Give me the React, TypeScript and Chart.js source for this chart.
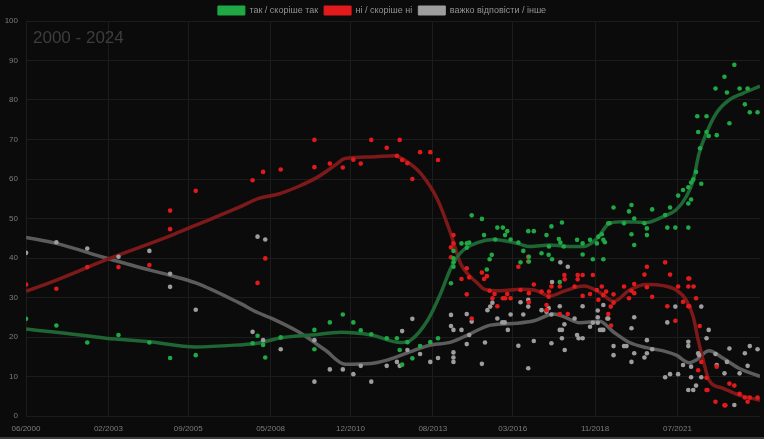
import { useEffect, useRef } from "react";
import { Chart, registerables } from "chart.js";

Chart.register(...registerables);

// x values are decimal years, y values are percent
const xTickValues = [2000.417, 2003.083, 2005.667, 2008.333, 2010.917, 2013.583, 2016.167, 2018.833, 2021.5];
const xTickLabels = ["06/2000", "02/2003", "09/2005", "05/2008", "12/2010", "08/2013", "03/2016", "11/2018", "07/2021"];
const seriesLabels = ["так / скоріше так", "ні / скоріше ні", "важко відповісти / інше"];

const yesPoints = [
  [2000.42, 24.6], [2001.4, 22.9], [2002.4, 18.6], [2003.41, 20.5], [2004.41, 18.6], [2005.08, 14.7], [2005.91, 15.4],
  [2007.75, 18.4], [2007.91, 20.3], [2008.09, 18.0], [2008.16, 14.8], [2008.66, 19.9], [2009.75, 21.8], [2009.75, 16.9],
  [2010.25, 23.7], [2010.67, 25.7], [2011.01, 23.7], [2011.25, 21.7], [2011.59, 20.7], [2012.09, 19.7], [2012.42, 19.7],
  [2012.51, 16.7], [2012.59, 13.0], [2012.76, 18.7], [2012.92, 14.6], [2013.17, 17.7], [2013.5, 18.7], [2013.75, 19.7],
  [2014.17, 33.6], [2014.25, 37.8], [2014.25, 38.9], [2014.25, 39.9], [2014.25, 41.8], [2014.51, 43.7], [2014.68, 43.7],
  [2014.68, 42.6], [2014.76, 43.9], [2014.84, 50.8], [2015.17, 49.9], [2015.24, 45.8], [2015.33, 37.1], [2015.42, 39.7],
  [2015.49, 40.8], [2015.6, 44.7], [2015.67, 47.7], [2015.85, 47.7], [2015.92, 45.8], [2015.99, 46.8], [2016.1, 44.7],
  [2016.35, 43.9], [2016.42, 38.9], [2016.51, 41.8], [2016.67, 46.8], [2016.69, 39.1], [2016.69, 40.3], [2016.85, 46.8],
  [2017.1, 41.2], [2017.26, 45.8], [2017.33, 40.8], [2017.34, 42.9], [2017.42, 48.0], [2017.44, 39.7], [2017.66, 44.8],
  [2017.71, 43.9], [2017.76, 49.0], [2017.82, 42.9], [2017.69, 33.9], [2018.25, 44.6], [2018.43, 43.7], [2018.43, 40.9],
  [2018.67, 44.6], [2018.76, 39.7], [2018.89, 43.7], [2018.94, 45.4], [2019.05, 46.0], [2019.1, 39.7], [2019.1, 44.6],
  [2019.15, 44.0], [2019.26, 48.8], [2019.3, 48.8], [2019.43, 52.8], [2019.77, 48.8], [2019.93, 51.8], [2020.01, 53.4],
  [2020.01, 46.0], [2020.1, 50.0], [2020.1, 43.3], [2020.43, 48.8], [2020.51, 47.5], [2020.51, 45.8], [2020.68, 52.3],
  [2021.1, 50.9], [2021.17, 47.7], [2021.26, 52.8], [2021.43, 47.7], [2021.52, 55.8], [2021.68, 57.2], [2021.85, 53.8],
  [2021.85, 57.9], [2021.85, 47.7], [2021.94, 54.8], [2021.94, 59.1], [2022.01, 59.9], [2022.1, 61.8], [2022.14, 75.9],
  [2022.17, 71.9], [2022.23, 67.8], [2022.27, 58.8], [2022.44, 75.9], [2022.44, 71.9], [2022.51, 70.9], [2022.73, 82.9],
  [2022.77, 71.1], [2023.02, 85.9], [2023.1, 81.9], [2023.18, 74.1], [2023.34, 88.9], [2023.51, 82.9], [2023.68, 78.9],
  [2023.77, 82.9], [2023.84, 76.9], [2024.09, 76.9],
];

const noPoints = [
  [2000.42, 33.3], [2001.4, 32.2], [2002.4, 37.7], [2003.41, 37.7], [2004.41, 38.2], [2005.08, 52.0], [2005.08, 47.3],
  [2005.91, 57.0], [2007.75, 59.7], [2007.91, 33.7], [2008.09, 61.8], [2008.16, 39.9], [2008.66, 62.4], [2009.75, 69.9],
  [2009.75, 63.0], [2010.25, 63.9], [2010.67, 62.9], [2011.01, 64.9], [2011.25, 63.9], [2011.59, 69.9], [2012.09, 67.9],
  [2012.42, 65.9], [2012.51, 69.9], [2012.59, 64.8], [2012.76, 64.0], [2012.92, 60.0], [2013.17, 66.8], [2013.5, 66.8],
  [2013.75, 64.8], [2014.17, 42.7], [2014.17, 40.2], [2014.25, 45.8], [2014.25, 43.7], [2014.51, 34.7], [2014.68, 30.8],
  [2014.68, 37.4], [2014.76, 35.1], [2014.84, 24.7], [2015.17, 36.3], [2015.24, 34.7], [2015.33, 35.4], [2015.42, 31.7],
  [2015.51, 29.8], [2015.58, 30.9], [2015.67, 27.8], [2015.85, 29.8], [2015.92, 29.8], [2015.99, 30.9], [2016.1, 29.8],
  [2016.35, 37.8], [2016.42, 31.9], [2016.67, 40.3], [2016.67, 39.1], [2016.69, 31.1], [2016.69, 28.8], [2016.85, 33.3],
  [2017.1, 31.5], [2017.26, 28.1], [2017.26, 26.8], [2017.33, 30.2], [2017.34, 31.5], [2017.42, 32.8], [2017.69, 32.8],
  [2017.69, 25.8], [2017.84, 35.7], [2017.85, 34.6], [2017.95, 25.8], [2018.17, 32.8], [2018.27, 35.7], [2018.27, 34.6],
  [2018.43, 35.7], [2018.43, 30.4], [2018.67, 30.9], [2018.76, 35.7], [2018.89, 31.9], [2018.94, 29.4], [2019.05, 32.8],
  [2019.1, 30.6], [2019.19, 31.5], [2019.26, 25.8], [2019.34, 27.7], [2019.35, 22.9], [2019.43, 28.7], [2019.43, 30.8],
  [2019.77, 32.8], [2019.93, 29.8], [2020.01, 31.7], [2020.1, 33.4], [2020.1, 31.1], [2020.43, 35.8], [2020.51, 37.8],
  [2020.51, 32.6], [2020.68, 30.2], [2021.1, 38.9], [2021.17, 27.8], [2021.26, 35.8], [2021.43, 24.1], [2021.52, 32.8],
  [2021.68, 28.9], [2021.85, 34.8], [2021.88, 34.8], [2021.85, 32.8], [2022.02, 32.8], [2021.85, 27.8], [2021.88, 27.8],
  [2022.1, 29.8], [2022.22, 22.8], [2022.27, 13.7], [2022.17, 11.6], [2022.44, 9.7], [2022.44, 6.6], [2022.47, 6.6],
  [2022.73, 3.6], [2022.77, 12.5], [2023.02, 2.7], [2023.05, 2.7], [2023.18, 8.2], [2023.34, 7.7], [2023.51, 5.6],
  [2023.68, 4.7], [2023.77, 3.6], [2023.84, 4.7], [2024.09, 4.7],
];

const otherPoints = [
  [2000.42, 41.3], [2001.4, 44.0], [2002.4, 42.4], [2003.41, 40.3], [2004.41, 41.8], [2005.08, 36.0], [2005.08, 32.7],
  [2005.91, 26.9], [2007.91, 45.4], [2008.16, 44.7], [2007.75, 21.3], [2008.09, 19.2], [2008.66, 16.9], [2009.75, 19.2],
  [2009.75, 8.7], [2010.25, 11.8], [2010.67, 11.8], [2011.01, 10.6], [2011.25, 12.7], [2011.59, 8.7], [2012.09, 12.7],
  [2012.42, 13.7], [2012.51, 12.7], [2012.59, 21.5], [2012.76, 16.7], [2012.92, 24.6], [2013.17, 15.7], [2013.5, 13.7],
  [2013.75, 14.7], [2014.17, 25.6], [2014.17, 22.8], [2014.25, 21.8], [2014.25, 16.1], [2014.25, 14.8], [2014.25, 13.7],
  [2014.51, 21.8], [2014.68, 25.8], [2014.68, 18.2], [2014.76, 20.5], [2014.84, 23.9], [2015.17, 13.2], [2015.27, 18.6],
  [2015.35, 26.8], [2015.44, 27.7], [2015.51, 28.7], [2015.67, 24.7], [2015.83, 23.7], [2015.91, 23.7], [2016.01, 21.8],
  [2016.1, 25.7], [2016.35, 17.8], [2016.42, 28.8], [2016.51, 25.7], [2016.67, 12.1], [2016.67, 27.7], [2016.67, 29.4],
  [2016.85, 19.0], [2017.1, 26.8], [2017.26, 26.4], [2017.33, 27.3], [2017.42, 18.4], [2017.42, 25.7], [2017.44, 33.9],
  [2017.69, 27.8], [2017.69, 21.8], [2017.71, 38.9], [2017.76, 19.7], [2017.76, 21.8], [2017.84, 23.2], [2017.85, 16.7],
  [2017.95, 37.8], [2018.17, 24.7], [2018.25, 20.5], [2018.3, 19.7], [2018.43, 19.7], [2018.43, 27.8], [2018.67, 22.6],
  [2018.76, 23.6], [2018.92, 23.6], [2018.92, 25.0], [2018.92, 26.7], [2018.99, 21.8], [2019.05, 21.8], [2019.1, 28.1],
  [2019.1, 21.8], [2019.23, 24.7], [2019.26, 24.7], [2019.43, 17.7], [2019.43, 15.4], [2019.77, 17.7], [2019.85, 17.7],
  [2020.01, 13.7], [2020.01, 22.2], [2020.1, 25.0], [2020.1, 15.9], [2020.43, 14.8], [2020.51, 19.2], [2020.51, 15.9],
  [2020.68, 16.9], [2021.1, 9.8], [2021.17, 23.7], [2021.26, 10.6], [2021.43, 27.7], [2021.52, 10.6], [2021.68, 12.9],
  [2021.85, 18.8], [2021.85, 17.7], [2021.85, 6.6], [2021.94, 12.5], [2021.94, 9.8], [2022.01, 6.6], [2022.1, 7.7],
  [2022.17, 15.9], [2022.2, 15.4], [2022.27, 27.7], [2022.27, 9.8], [2022.44, 19.7], [2022.51, 21.8], [2022.73, 15.7],
  [2022.77, 12.9], [2023.02, 10.8], [2023.1, 13.7], [2023.18, 17.1], [2023.34, 2.8], [2023.51, 10.8], [2023.68, 15.9],
  [2023.77, 12.7], [2023.84, 17.7], [2024.09, 16.9],
];

// smoothed trend lines
const yesTrend = [
  [2000.42, 22.0], [2001.4, 21.2], [2003.0, 19.7], [2004.4, 18.8], [2005.9, 17.5], [2007.3, 18.0], [2007.9, 18.4],
  [2008.6, 19.7], [2009.65, 20.5], [2010.62, 21.2], [2011.59, 20.5], [2012.55, 18.6], [2012.87, 19.2], [2013.42, 24.3],
  [2013.84, 31.1], [2014.17, 37.5], [2014.5, 41.5], [2015.03, 43.9], [2015.55, 44.7], [2016.31, 43.7], [2016.73, 42.9],
  [2017.38, 43.3], [2017.83, 43.0], [2018.47, 42.9], [2018.9, 45.0], [2019.3, 48.8], [2019.75, 49.2], [2020.5, 49.0],
  [2021.04, 50.5], [2021.46, 52.2], [2021.78, 55.5], [2022.01, 59.7], [2022.2, 66.5], [2022.43, 71.5], [2022.75, 76.6],
  [2023.17, 80.0], [2023.62, 81.7], [2024.17, 83.5],
];

const noTrend = [
  [2000.42, 31.6], [2001.4, 34.4], [2003.0, 39.5], [2005.08, 45.6], [2005.91, 48.3], [2007.3, 52.8], [2007.95, 55.1],
  [2008.59, 56.2], [2009.23, 58.1], [2009.88, 60.6], [2010.42, 63.5], [2010.74, 65.2], [2011.59, 65.6], [2012.35, 65.9],
  [2012.67, 64.8], [2013.19, 61.4], [2013.74, 54.7], [2014.16, 46.2], [2014.48, 38.6], [2014.71, 36.0], [2015.03, 33.6],
  [2015.25, 32.1], [2015.77, 31.7], [2016.42, 32.1], [2016.86, 31.9], [2017.38, 30.4], [2017.83, 31.6], [2018.47, 32.9],
  [2018.98, 31.3], [2019.44, 29.0], [2019.95, 31.9], [2020.5, 33.3], [2021.04, 33.0], [2021.46, 31.9], [2021.78, 29.4],
  [2022.01, 25.1], [2022.17, 19.2], [2022.33, 14.2], [2022.52, 9.1], [2022.98, 7.0], [2023.49, 5.3], [2024.17, 4.0],
];

const otherTrend = [
  [2000.42, 45.2], [2001.4, 43.7], [2003.0, 40.0], [2004.4, 37.0], [2005.08, 35.6], [2005.91, 33.7], [2007.3, 28.7],
  [2007.91, 26.2], [2008.37, 24.7], [2009.23, 21.3], [2010.1, 16.7], [2010.75, 13.1], [2011.59, 13.3], [2012.13, 14.2],
  [2012.87, 16.3], [2013.42, 17.8], [2014.17, 18.7], [2014.71, 20.5], [2015.45, 23.0], [2016.31, 23.5], [2016.86, 24.1],
  [2017.5, 25.8], [2017.83, 25.1], [2018.34, 23.6], [2018.98, 24.0], [2019.44, 21.2], [2019.95, 18.6], [2020.5, 17.3],
  [2021.04, 16.5], [2021.46, 15.4], [2021.88, 13.5], [2022.11, 14.2], [2022.52, 16.5], [2022.98, 14.6], [2023.49, 12.1],
  [2024.17, 10.0],
];

const toXY = (arr: number[][]) => arr.map(([x, y]) => ({ x, y }));

const periodTitle = {
  id: "periodTitle",
  afterDraw(chart: Chart) {
    const { ctx, chartArea } = chart;
    ctx.save();
    ctx.font = "17px 'Liberation Sans', Arial, sans-serif";
    ctx.fillStyle = "#3e3e3e";
    ctx.textBaseline = "alphabetic";
    ctx.fillText("2000 - 2024", chartArea.left + 7, chartArea.top + 22);
    ctx.restore();
  },
};

const bgPlugin = {
  id: "bgFill",
  beforeDraw(chart: Chart) {
    const { ctx, width, height } = chart;
    ctx.save();
    ctx.fillStyle = "#0b0b0b";
    ctx.fillRect(0, 0, width, height);
    ctx.restore();
  },
};

function TrendChart() {
  const canvasRef = useRef<HTMLCanvasElement>(null);
  const chartRef = useRef<Chart | null>(null);

  useEffect(() => {
    if (!canvasRef.current) return;
    if (chartRef.current) chartRef.current.destroy();

    const pointDs = (label: string, data: number[][], color: string) => ({
      label,
      data: toXY(data),
      showLine: false,
      backgroundColor: color,
      borderColor: color,
      borderWidth: 1,
      pointRadius: 2.3,
      pointBorderWidth: 0,
      pointBackgroundColor: color,
      order: 0,
    });
    const trendDs = (data: number[][], color: string) => ({
      label: "",
      data: toXY(data),
      showLine: true,
      borderColor: color,
      backgroundColor: color,
      borderWidth: 3.5,
      pointRadius: 0,
      cubicInterpolationMode: "monotone",
      fill: false,
      order: 1,
    });

    chartRef.current = new Chart(canvasRef.current, {
      type: "line",
      data: {
        datasets: [
          pointDs(seriesLabels[0], yesPoints, "#1fa844"),
          pointDs(seriesLabels[1], noPoints, "#e31a1c"),
          pointDs(seriesLabels[2], otherPoints, "#9d9d9d"),
          trendDs(yesTrend, "#1e6734"),
          trendDs(noTrend, "#7e1919"),
          trendDs(otherTrend, "#5c5c5c"),
        ] as any,
      },
      options: {
        responsive: true,
        maintainAspectRatio: false,
        animation: false,
        layout: { padding: 0 },
        plugins: {
          legend: {
            position: "top",
            maxHeight: 21,
            labels: {
              boxWidth: 27,
              boxHeight: 9,
              padding: 6,
              color: "#939393",
              font: { size: 9, family: "'Liberation Sans', Arial, sans-serif" },
              filter: (item) => (item.datasetIndex ?? 0) < 3,
            },
          },
          tooltip: { enabled: false },
        },
        scales: {
          x: {
            type: "linear",
            min: 2000.417,
            max: 2024.17,
            afterBuildTicks: (scale) => {
              scale.ticks = xTickValues.map((v) => ({ value: v }));
            },
            afterFit: (scale) => {
              scale.height = 21;
            },
            grid: { color: "#1c1c1c", drawTicks: false },
            border: { display: false },
            ticks: {
              autoSkip: false,
              maxRotation: 0,
              padding: 8,
              color: "#7c7c7c",
              font: { size: 8, family: "'Liberation Sans', Arial, sans-serif" },
              callback: (_v, i) => xTickLabels[i],
            },
          },
          y: {
            min: 0,
            max: 100,
            afterFit: (scale) => {
              scale.width = 26;
            },
            grid: { color: "#1c1c1c", drawTicks: false },
            border: { display: false },
            ticks: {
              stepSize: 10,
              padding: 8,
              color: "#7c7c7c",
              font: { size: 8, family: "'Liberation Sans', Arial, sans-serif" },
            },
          },
        },
      },
      plugins: [bgPlugin, periodTitle],
    });

    return () => {
      if (chartRef.current) {
        chartRef.current.destroy();
        chartRef.current = null;
      }
    };
  }, []);

  return <canvas ref={canvasRef}></canvas>;
}

export default function App() {
  return (
    <div
      style={{
        position: "fixed",
        left: 0,
        top: 0,
        width: 764,
        height: 439,
        background: "#0b0b0b",
        boxSizing: "border-box",
        borderBottom: "2px solid #3a3a3a",
      }}
    >
      <div style={{ position: "relative", width: 764, height: 437 }}>
        <TrendChart />
      </div>
    </div>
  );
}
